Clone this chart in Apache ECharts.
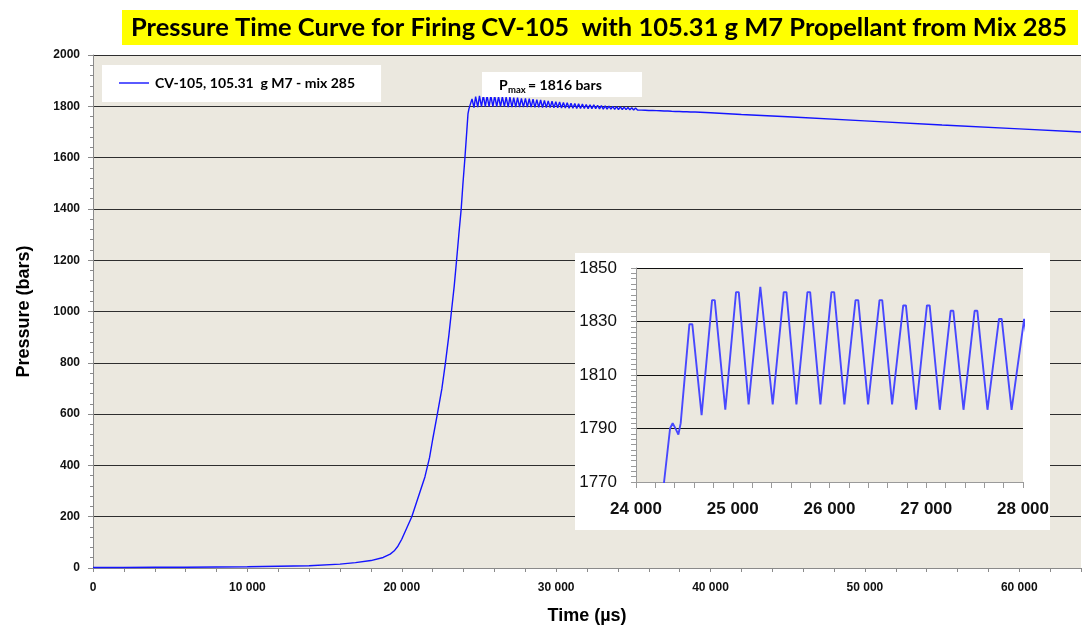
<!DOCTYPE html>
<html>
<head>
<meta charset="utf-8">
<script src="https://cdn.jsdelivr.net/npm/echarts@6/dist/echarts.min.js"></script>
<style>
html,body{margin:0;padding:0;background:#fff;}
#chart{width:1086px;height:630px;}
</style>
</head>
<body>
<div id="chart"></div>
<script>
// ---- Data (time in µs, pressure in bars) ----
const titleText = 'Pressure Time Curve for Firing CV-105  with 105.31 g M7 Propellant from Mix 285';
const seriesName = 'CV-105, 105.31  g M7 - mix 285';
const pmaxValue = '1816';

const earlyRise = [
  [0,2],[2000,2],[4000,3],[6000,3],[8000,4],[10000,5],[12000,7],[14000,9],
  [16000,15],[17000,21],[18000,29],[18800,41],[19250,54],[19500,66],[19750,85],[20000,112],
  [20650,200],[21200,300],[21500,355],[21800,430],[22000,500],[22300,598],[22600,699],
  [22830,800],[23050,906],[23220,1001],[23400,1100],[23550,1199],[23700,1301],
  [23850,1399],[23960,1495],[24090,1597],[24220,1709]
];

const ringing = [
  [24290,1770],[24352,1790],[24379,1792],[24414,1789.6],[24438,1787.7],[24462,1792],
  [24552,1829],[24582,1829],[24678,1795],[24694,1795],
  [24786,1838],[24814,1838],[24923,1797],[24939,1797],
  [25034,1841],[25062,1841],[25164,1799],[25180,1799],
  [25285,1843],[25301,1843],[25413,1799],[25429,1799],
  [25527,1841],[25555,1841],[25658,1799],[25674,1799],
  [25772,1841],[25800,1841],[25906,1799],[25922,1799],
  [26020,1841],[26048,1841],[26154,1799],[26170,1799],
  [26269,1838],[26297,1838],[26399,1799],[26415,1799],
  [26517,1838],[26545,1838],[26647,1799],[26663,1799],
  [26762,1836],[26790,1836],[26895,1797],[26911,1797],
  [27007,1836],[27035,1836],[27140,1797],[27156,1797],
  [27252,1834],[27280,1834],[27385,1797],[27401,1797],
  [27500,1834],[27528,1834],[27633,1797],[27649,1797],
  [27752,1831],[27780,1831],[27882,1797],[27898,1797]
];

const ringingTail = [
  [28012,1831],[28135,1797],[28258,1829.5],[28381,1796.5],[28504,1828],[28627,1796],
  [28750,1826],[28873,1796],[28996,1824.5],[29119,1795.5],[29242,1823],[29365,1795],
  [29488,1821],[29611,1795],[29734,1819.5],[29857,1794.5],[29980,1818],[30103,1794],
  [30226,1816.5],[30349,1793.5],[30472,1815],[30595,1793],[30718,1813.5],[30841,1792.5],
  [30964,1812],[31087,1792],[31210,1810.5],[31333,1791.5],[31456,1809.5],[31579,1791.5],
  [31702,1808.5],[31825,1791.5],[31948,1807],[32071,1791],[32194,1806],[32317,1791],
  [32440,1805.5],[32563,1790.5],[32686,1804],[32809,1790],[32932,1803],[33055,1789],
  [33178,1802],[33301,1789],[33424,1801],[33547,1789],[33670,1800],[33793,1788],
  [33916,1798.5],[34039,1787.5],[34162,1797.5],[34285,1787.5],[34408,1797],[34531,1787],
  [34654,1795.5],[34777,1786.5],[34900,1794.5],[35023,1785.5],[35146,1793.5],[35269,1785.5],
  [35392,1793],[35515,1785],[35638,1791.5],[35761,1784.5],[35884,1790.5],[36007,1783.5],
  [36130,1789.5],[36253,1783.5],[36376,1789],[36499,1783],[36622,1787.5],[36745,1782.5],
  [36868,1786.5],[36991,1781.5],[37114,1785.5],[37237,1781.5],[37360,1784],[37483,1780.5],
  [37606,1783],[37729,1780],[37852,1782],[37975,1779.5],[38098,1781],[38221,1779],
  [38344,1780.5],[38467,1778.5],[38590,1780],[38713,1778]
];

const decline = [
  [39000,1778],[40000,1775],[42000,1768],[45000,1759],[50000,1743],
  [55000,1727],[60000,1712],[64000,1700]
];

const mainAxisTicks = { min: 0, max: 64000, step: 2000, labelStep: 10000 };
const pressureTicks = { min: 0, max: 2000, step: 200 };
const insetTimeTicks = { min: 24000, max: 28000, step: 1000 };
const insetPressureTicks = { min: 1770, max: 1850, step: 20 };

const curve = earlyRise.concat(ringing, ringingTail, decline);

const fmt = v => String(v).replace(/\B(?=(\d{3})+(?!\d))/g, ' ');

const chart = echarts.init(document.getElementById('chart'), null, {renderer:'canvas'});
const beige = '#ebe8df';
const gridLine = '#2e2e2e';

chart.setOption({
  animation: false,
  backgroundColor: '#ffffff',
  grid: [
    {left: 93, top: 55, width: 988, height: 515, show: true, backgroundColor: beige, borderWidth: 0},
    {left: 636, top: 268, width: 387, height: 214, show: false}
  ],
  legend: {
    data: [{name: seriesName, icon: 'rect'}],
    left: 102, top: 65,
    backgroundColor: '#ffffff',
    padding: [11, 26, 12, 17],
    itemWidth: 30, itemHeight: 1.4, itemGap: 4,
    textStyle: {fontFamily: 'Lato', fontWeight: 'bold', fontSize: 14, color: '#000', padding: [0, 0, 0, 1]},
    z: 4
  },
  xAxis: [
    {
      type: 'value', gridIndex: 0,
      min: mainAxisTicks.min, max: mainAxisTicks.max, interval: mainAxisTicks.step,
      axisLine: {show: true, lineStyle: {color: '#8a8a8a'}},
      axisTick: {show: true, length: 4, lineStyle: {color: '#8a8a8a'}},
      axisLabel: {
        formatter: v => (v % mainAxisTicks.labelStep === 0 ? fmt(v) : ''),
        fontFamily: 'Liberation Sans Narrow, Liberation Sans', fontWeight: 'bold', fontSize: 12,
        color: '#111', margin: 14
      },
      splitLine: {show: false},
      name: 'Time (µs)', nameLocation: 'middle', nameGap: 39,
      nameTextStyle: {fontFamily: 'Liberation Sans', fontWeight: 'bold', fontSize: 18, color: '#000'}
    },
    {
      type: 'value', gridIndex: 1,
      min: insetTimeTicks.min, max: insetTimeTicks.max, interval: insetTimeTicks.step,
      axisLine: {show: true, lineStyle: {color: '#9a9a9a'}},
      axisTick: {show: true, length: 6, lineStyle: {color: '#9a9a9a'}},
      minorTick: {show: true, splitNumber: 5, length: 6, lineStyle: {color: '#9a9a9a'}},
      axisLabel: {formatter: v => fmt(v), fontFamily: 'Liberation Sans', fontWeight: 'bold', fontSize: 17, color: '#111', margin: 19},
      splitLine: {show: false},
      z: 10
    }
  ],
  yAxis: [
    {
      type: 'value', gridIndex: 0,
      min: pressureTicks.min, max: pressureTicks.max, interval: pressureTicks.step,
      axisLine: {show: true, lineStyle: {color: '#8a8a8a'}},
      axisTick: {show: true, length: 5, lineStyle: {color: '#8a8a8a'}},
      minorTick: {show: true, splitNumber: 5, length: 3, lineStyle: {color: '#8a8a8a'}},
      axisLabel: {formatter: v => String(v), fontFamily: 'Liberation Sans', fontWeight: 'bold', fontSize: 12, color: '#111', margin: 13},
      splitLine: {show: true, lineStyle: {color: gridLine, width: 1}},
      name: 'Pressure (bars)', nameLocation: 'middle', nameGap: 60,
      nameTextStyle: {fontFamily: 'Liberation Sans', fontWeight: 'bold', fontSize: 18, color: '#000'}
    },
    {
      type: 'value', gridIndex: 1,
      min: insetPressureTicks.min, max: insetPressureTicks.max, interval: insetPressureTicks.step,
      axisLine: {show: true, lineStyle: {color: '#9a9a9a'}},
      axisTick: {show: true, length: 5, lineStyle: {color: '#9a9a9a'}},
      minorTick: {show: true, splitNumber: 10, length: 5, lineStyle: {color: '#9a9a9a'}},
      axisLabel: {formatter: v => String(v), fontFamily: 'Liberation Sans', fontSize: 17, color: '#111', margin: 19},
      splitLine: {show: true, lineStyle: {color: '#111', width: 1}},
      z: 10
    }
  ],
  graphic: [
    {type: 'rect', shape: {x: 122, y: 10, width: 956, height: 35}, style: {fill: '#ffff00'}, z: 20},
    {type: 'text', x: 599, y: 28, style: {text: titleText, font: 'bold 25.5px Lato', fill: '#000', align: 'center', verticalAlign: 'middle'}, z: 21},
    {type: 'rect', shape: {x: 575, y: 253, width: 475, height: 277}, style: {fill: '#ffffff'}, z: 5},
    {type: 'rect', shape: {x: 636, y: 268, width: 387, height: 214}, style: {fill: beige}, z: 6},
    {type: 'rect', shape: {x: 482, y: 72, width: 160, height: 25}, style: {fill: '#ffffff'}, z: 20},
    {type: 'text', x: 499, y: 85, style: {text: 'P', font: 'bold 14px Lato', fill: '#000', align: 'left', verticalAlign: 'middle'}, z: 21},
    {type: 'text', x: 508, y: 90, style: {text: 'max', font: 'bold 9.5px Lato', fill: '#000', align: 'left', verticalAlign: 'middle'}, z: 21},
    {type: 'text', x: 528, y: 85, style: {text: '= ' + pmaxValue + ' bars', font: 'bold 14px Lato', fill: '#000', align: 'left', verticalAlign: 'middle'}, z: 21}
  ],
  series: [
    {
      name: seriesName, type: 'line', xAxisIndex: 0, yAxisIndex: 0,
      data: curve, symbol: 'none', clip: true,
      lineStyle: {color: '#1414ff', width: 1.4}, itemStyle: {color: '#1414ff'}, z: 3
    },
    {
      name: 'inset', type: 'line', xAxisIndex: 1, yAxisIndex: 1,
      data: curve, symbol: 'none', clip: true,
      lineStyle: {color: '#4848ff', width: 1.9}, itemStyle: {color: '#4848ff'}, z: 12
    }
  ]
});
</script>
</body>
</html>
